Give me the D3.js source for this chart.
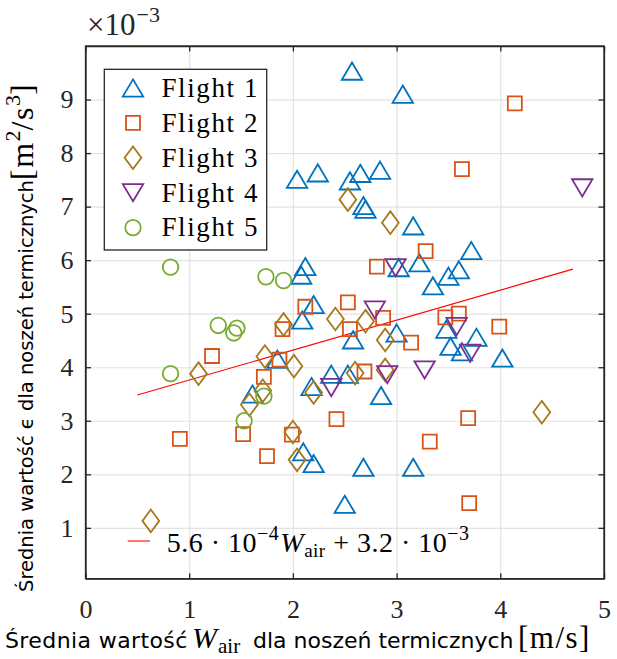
<!DOCTYPE html>
<html>
<head>
<meta charset="utf-8">
<script src="https://cdn.jsdelivr.net/npm/d3@7/dist/d3.min.js"></script>
<style>
  body { margin: 0; background: #fff; }
  svg { display: block; }
</style>
</head>
<body>
<svg id="chart" width="617" height="659"></svg>
<script>
// Mean updraft speed W_air [m/s] and mean dissipation rate epsilon [x1e-3 m^2/s^3] per thermal
const flight1W = [2.57, 3.06, 2.04, 2.24, 2.55, 2.65, 2.84, 2.68, 2.70, 3.16, 3.72, 2.12, 2.08,
                  3.02, 3.22, 3.35, 3.50, 3.60, 2.20, 2.09, 2.58, 3.00, 3.48, 3.52, 3.63, 3.77,
                  4.02, 1.85, 1.61, 2.18, 2.37, 2.53, 2.85, 2.10, 2.20, 2.68, 3.16, 2.50];
const flight1E = [9.53, 9.10, 7.51, 7.63, 7.48, 7.62, 7.68, 7.02, 6.95, 6.64, 6.18, 5.88, 5.72,
                  5.86, 5.95, 5.52, 5.70, 5.82, 5.17, 4.88, 4.51, 4.64, 4.71, 4.39, 4.29, 4.56,
                  4.17, 4.15, 3.50, 3.64, 3.87, 3.87, 3.47, 2.42, 2.20, 2.13, 2.13, 1.44];

const flight2W = [4.14, 3.63, 3.28, 2.81, 2.12, 2.53, 2.87, 1.90, 2.55, 3.14, 3.47, 3.60, 3.99,
                  1.22, 1.87, 1.72, 2.69, 2.42, 3.69, 0.91, 1.52, 1.99, 1.75, 3.32, 3.70];
const flight2E = [8.93, 7.70, 6.17, 5.88, 5.13, 5.21, 4.92, 4.71, 4.71, 4.46, 4.93, 5.00, 4.76,
                  4.21, 4.14, 3.82, 3.92, 3.03, 3.05, 2.66, 2.75, 2.74, 2.34, 2.61, 1.46];

const flight3W = [2.53, 2.94, 2.41, 2.70, 1.91, 2.89, 1.73, 2.01, 1.09, 2.60, 2.89, 1.71, 2.20,
                  1.58, 2.00, 2.04, 4.40, 0.63];
const flight3E = [7.13, 6.70, 4.90, 4.86, 4.80, 4.51, 4.20, 4.02, 3.88, 3.89, 3.95, 3.56, 3.53,
                  3.30, 2.79, 2.27, 3.16, 1.13];

const flight4W = [4.79, 2.99, 2.79, 3.58, 3.71, 3.27, 2.91, 2.37];
const flight4E = [7.35, 5.86, 5.07, 4.76, 4.26, 3.95, 3.86, 3.62];

const flight5W = [0.82, 1.74, 1.91, 1.28, 1.46, 1.43, 0.82, 1.72, 1.53];
const flight5E = [5.87, 5.69, 5.62, 4.78, 4.73, 4.64, 3.88, 3.46, 3.00];

const flightNames = ["Flight 1", "Flight 2", "Flight 3", "Flight 4", "Flight 5"];

// Linear fit: epsilon = 5.6e-4 * W_air + 3.2e-3 (epsilon in units of 1e-3)
const fitSlope = 0.56;
const fitIntercept = 3.2;
const fitRange = [0.5, 4.7];

const xTicks = [0, 1, 2, 3, 4, 5];
const yTicks = [1, 2, 3, 4, 5, 6, 7, 8, 9];

// ---------------------------------------------------------------------------
const flights = [
  { name: flightNames[0], w: flight1W, e: flight1E, color: "#0072BD", shape: "up" },
  { name: flightNames[1], w: flight2W, e: flight2E, color: "#D95319", shape: "square" },
  { name: flightNames[2], w: flight3W, e: flight3E, color: "#A8791C", shape: "diamond" },
  { name: flightNames[3], w: flight4W, e: flight4E, color: "#7E2F8E", shape: "down" },
  { name: flightNames[4], w: flight5W, e: flight5E, color: "#77AC30", shape: "circle" }
];

const svg = d3.select("#chart");
const box = { left: 85.5, right: 604, top: 46, bottom: 578.7 };

const x = d3.scaleLinear().domain([0, 5]).range([box.left, box.right]);
const y = d3.scaleLinear().domain([0.05, 10]).range([box.bottom, box.top]);

const serif = "'Liberation Serif', 'Times New Roman', serif";
const sans = "'DejaVu Sans', 'Noto Sans', sans-serif";
const axisColor = "#262626";
const fmt1 = d3.format(".1f");

// marker outlines, centred on the data point
function markerPath(shape) {
  switch (shape) {
    case "up":      return "M0,-8.6L10.2,8.6L-10.2,8.6Z";
    case "down":    return "M0,8.6L10.2,-8.6L-10.2,-8.6Z";
    case "square":  return "M-7,-7H7V7H-7Z";
    case "diamond": return "M0,-11.3L8.4,0L0,11.3L-8.4,0Z";
    case "circle":  return "M7.8,0A7.8,7.8 0 1,1 -7.8,0A7.8,7.8 0 1,1 7.8,0Z";
  }
}

// grid
const grid = svg.append("g").attr("class", "grid");
grid.append("g")
  .attr("transform", `translate(0,${box.bottom})`)
  .call(d3.axisBottom(x).tickValues(xTicks.slice(1, -1))
        .tickSize(-(box.bottom - box.top)).tickFormat(""))
  .call(g => g.select(".domain").remove());
grid.append("g")
  .attr("transform", `translate(${box.left},0)`)
  .call(d3.axisLeft(y).tickValues(yTicks)
        .tickSize(-(box.right - box.left)).tickFormat(""))
  .call(g => g.select(".domain").remove());
grid.selectAll("line").attr("stroke", "#e3e3e3").attr("stroke-width", 1.2);

// fit line
const fitLine = d3.line().x(d => x(d)).y(d => y(fitSlope * d + fitIntercept));
svg.append("path")
  .datum(fitRange)
  .attr("d", fitLine)
  .attr("fill", "none")
  .attr("stroke", "#ff0000")
  .attr("stroke-width", 1.1);

// scatter markers
flights.forEach(f => {
  svg.append("g").selectAll("path")
    .data(d3.range(f.w.length))
    .join("path")
    .attr("transform", i => `translate(${x(f.w[i])},${y(f.e[i])})`)
    .attr("d", markerPath(f.shape))
    .attr("fill", "none")
    .attr("stroke", f.color)
    .attr("stroke-width", 1.8)
    .attr("stroke-linejoin", "miter");
});

// axes (ticks point inward on all four sides)
function styleAxis(g) {
  g.select(".domain").attr("stroke", axisColor).attr("stroke-width", 1.3);
  g.selectAll(".tick line").attr("stroke", axisColor).attr("stroke-width", 1.3);
  g.selectAll("text").attr("fill", axisColor)
    .style("font-family", serif).style("font-size", "26px");
}
svg.append("g")
  .attr("transform", `translate(0,${box.bottom})`)
  .call(d3.axisBottom(x).tickValues(xTicks).tickSizeInner(-5.5).tickSizeOuter(0)
        .tickPadding(21).tickFormat(d3.format("d")))
  .call(styleAxis);
svg.append("g")
  .attr("transform", `translate(0,${box.top})`)
  .call(d3.axisTop(x).tickValues(xTicks).tickSizeInner(-5.5).tickSizeOuter(0).tickFormat(""))
  .call(styleAxis);
svg.append("g")
  .attr("transform", `translate(${box.left},0)`)
  .call(d3.axisLeft(y).tickValues(yTicks).tickSizeInner(-5.5).tickSizeOuter(0)
        .tickPadding(12).tickFormat(d3.format("d")))
  .call(styleAxis);
svg.append("g")
  .attr("transform", `translate(${box.right},0)`)
  .call(d3.axisRight(y).tickValues(yTicks).tickSizeInner(-5.5).tickSizeOuter(0).tickFormat(""))
  .call(styleAxis);
// full frame
svg.append("rect")
  .attr("x", box.left).attr("y", box.top)
  .attr("width", box.right - box.left).attr("height", box.bottom - box.top)
  .attr("fill", "none").attr("stroke", axisColor).attr("stroke-width", 1.3);

// exponent of the y axis
const expo = svg.append("text")
  .attr("x", 87).attr("y", 35)
  .attr("fill", axisColor)
  .style("font-family", serif).style("font-size", "31px");
expo.append("tspan").text("×10");
expo.append("tspan").attr("dx", 1).attr("dy", -13).style("font-size", "22px").text("−3");

// legend of the flights
const legend = svg.append("g");
legend.append("rect")
  .attr("x", 104.3).attr("y", 69.3).attr("width", 162.4).attr("height", 180.7)
  .attr("fill", "#fff").attr("stroke", axisColor).attr("stroke-width", 1.3);
flights.forEach((f, i) => {
  const cy = 88 + i * 34.9;
  legend.append("path")
    .attr("transform", `translate(133,${cy})`)
    .attr("d", markerPath(f.shape))
    .attr("fill", "none").attr("stroke", f.color).attr("stroke-width", 1.8);
  legend.append("text")
    .attr("x", 161.5).attr("y", cy + 8.8)
    .attr("fill", "#000")
    .style("font-family", serif).style("font-size", "27px")
    .style("letter-spacing", "1.6px")
    .text(f.name);
});

// legend of the fit
svg.append("line")
  .attr("x1", 127.7).attr("x2", 150).attr("y1", 541).attr("y2", 541)
  .attr("stroke", "#ff0000").attr("stroke-width", 1.1);
const fitText = svg.append("text")
  .attr("x", 166.7).attr("y", 551.7).attr("fill", "#000")
  .style("font-family", serif).style("font-size", "28px")
  .style("letter-spacing", "0.5px");
fitText.append("tspan").text(`${fmt1(fitSlope * 10)} · 10`);
fitText.append("tspan").attr("dy", -12).style("font-size", "20px").text("−4");
fitText.append("tspan").attr("dy", 12).attr("dx", 1).style("font-style", "italic").text("W");
fitText.append("tspan").attr("dy", 5).style("font-size", "19px").text("air");
fitText.append("tspan").attr("dy", -5).text(` + ${fmt1(fitIntercept)} · 10`);
fitText.append("tspan").attr("dy", -12).style("font-size", "20px").text("−3");

// x axis label
const xl = svg.append("text")
  .attr("y", 648).attr("fill", "#000")
  .style("font-family", sans).style("font-size", "22px");
xl.append("tspan").attr("x", 5).style("letter-spacing", "0.4px").text("Średnia wartość");
xl.append("tspan").attr("x", 192).style("font-family", serif).style("font-style", "italic")
  .style("font-size", "30px").text("W");
xl.append("tspan").attr("dy", 5).attr("dx", 1).style("font-family", serif)
  .style("font-size", "21px").text("air");
xl.append("tspan").attr("x", 253).attr("dy", -5).text("dla noszeń termicznych");
xl.append("tspan").attr("x", 518).style("font-family", serif).style("font-size", "31px")
  .style("letter-spacing", "1.5px").text("[m/s]");

// y axis label
const yl = svg.append("text")
  .attr("transform", "translate(33,592) rotate(-90)")
  .attr("fill", "#000")
  .style("font-family", sans).style("font-size", "19.5px");
yl.append("tspan").text("Średnia wartość ϵ dla noszeń termicznych");
yl.append("tspan").attr("x", 412).style("font-family", serif).style("font-size", "32px")
  .style("letter-spacing", "1.5px").text("[m");
yl.append("tspan").attr("dy", -13).style("font-family", serif).style("font-size", "22px").text("2");
yl.append("tspan").attr("dy", 13).style("font-family", serif).style("font-size", "32px")
  .style("letter-spacing", "1.5px").text("/s");
yl.append("tspan").attr("dy", -13).style("font-family", serif).style("font-size", "22px").text("3");
yl.append("tspan").attr("dy", 13).style("font-family", serif).style("font-size", "32px").text("]");
</script>
</body>
</html>
